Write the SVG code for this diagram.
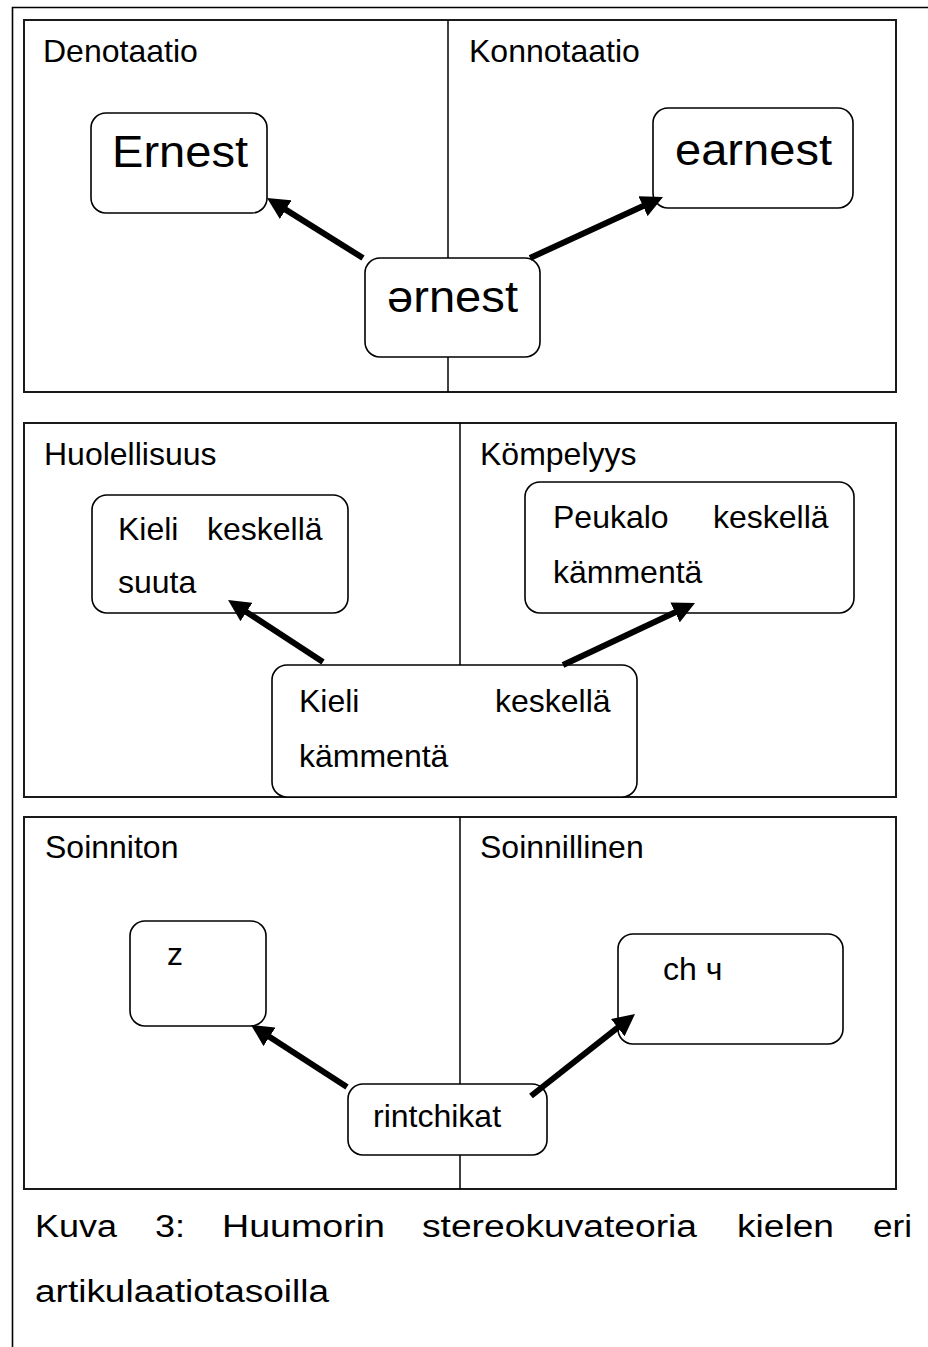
<svg xmlns="http://www.w3.org/2000/svg" width="928" height="1347" viewBox="0 0 928 1347">
<style>
  text { font-family: "Liberation Sans", Arial, sans-serif; fill: #000; }
  .frame { fill: none; stroke: #000; stroke-width: 1.6; }
  .panel { fill: none; stroke: #1a1a1a; stroke-width: 2; }
  .divider { stroke: #000; stroke-width: 1.5; }
  .node { fill: #fff; stroke: #000; stroke-width: 1.6; }
  .label { font-size: 32px; }
  .big { font-size: 45px; }
  .body { font-size: 32px; }
  .caption { font-size: 31px; }
  .arrow { stroke: #000; stroke-width: 6; fill: none; marker-end: url(#head); }
</style>
<defs>
  <marker id="head" viewBox="0 0 22 22" markerWidth="22" markerHeight="22" refX="2" refY="11" orient="auto" markerUnits="userSpaceOnUse">
    <path d="M0,0 L22,11 L0,22 Z" fill="#000"/>
  </marker>
</defs>
<rect width="928" height="1347" fill="#fff"/>
<g id="frame">
  <path class="frame" d="M12.5,1347 L12.5,7.5 L928,7.5"/>
</g>
<g id="panels">
  <rect class="panel" x="24" y="20" width="872" height="372"/>
  <line class="divider" x1="448" y1="20" x2="448" y2="392"/>
  <rect class="panel" x="24" y="423" width="872" height="374"/>
  <line class="divider" x1="460" y1="423" x2="460" y2="797"/>
  <rect class="panel" x="24" y="817" width="872" height="372"/>
  <line class="divider" x1="460" y1="817" x2="460" y2="1189"/>
</g>
<g id="labels">
  <text class="label" x="43" y="62">Denotaatio</text>
  <text class="label" x="469" y="62">Konnotaatio</text>
  <text class="label" x="44" y="465">Huolellisuus</text>
  <text class="label" x="480" y="465">Kömpelyys</text>
  <text class="label" x="45" y="858">Soinniton</text>
  <text class="label" x="480" y="858">Soinnillinen</text>
</g>
<g id="node-ernest">
  <rect class="node" x="91" y="113" width="176" height="100" rx="15"/>
  <text class="big" x="112" y="167" textLength="136" lengthAdjust="spacingAndGlyphs">Ernest</text>
</g>
<g id="node-earnest">
  <rect class="node" x="653" y="108" width="200" height="100" rx="15"/>
  <text class="big" x="675" y="165" textLength="157" lengthAdjust="spacingAndGlyphs">earnest</text>
</g>
<g id="node-schwa">
  <rect class="node" x="365" y="258" width="175" height="99" rx="15"/>
  <text class="big" x="387" y="312" textLength="131" lengthAdjust="spacingAndGlyphs">ərnest</text>
</g>
<g id="node-suuta">
  <rect class="node" x="92" y="495" width="256" height="118" rx="15"/>
  <text class="body" y="540"><tspan x="118">Kieli</tspan> <tspan x="207">keskellä</tspan></text>
  <text class="body" x="118" y="593">suuta</text>
</g>
<g id="node-peukalo">
  <rect class="node" x="525" y="482" width="329" height="131" rx="15"/>
  <text class="body" y="528"><tspan x="553">Peukalo</tspan> <tspan x="713">keskellä</tspan></text>
  <text class="body" x="553" y="583">kämmentä</text>
</g>
<g id="node-kammenta">
  <rect class="node" x="272" y="665" width="365" height="132" rx="15"/>
  <text class="body" y="712"><tspan x="299">Kieli</tspan> <tspan x="495">keskellä</tspan></text>
  <text class="body" x="299" y="767">kämmentä</text>
</g>
<g id="node-z">
  <rect class="node" x="130" y="921" width="136" height="105" rx="15"/>
  <text class="body" x="167" y="965">z</text>
</g>
<g id="node-ch">
  <rect class="node" x="618" y="934" width="225" height="110" rx="15"/>
  <text class="body" x="663" y="980">ch ч</text>
</g>
<g id="node-rintchikat">
  <rect class="node" x="348" y="1084" width="199" height="71" rx="15"/>
  <text class="body" x="373" y="1127">rintchikat</text>
</g>
<g id="connectors">
  <line class="arrow" x1="363" y1="258" x2="284" y2="208.6"/>
  <line class="arrow" x1="530" y1="258" x2="644.8" y2="205.3"/>
  <line class="arrow" x1="323" y1="662" x2="244.8" y2="610.9"/>
  <line class="arrow" x1="563" y1="665" x2="676.9" y2="611.5"/>
  <line class="arrow" x1="347" y1="1087" x2="267.8" y2="1035.8"/>
  <line class="arrow" x1="531" y1="1096" x2="619.3" y2="1026.4"/>
</g>
<g id="caption">
  <text class="caption" y="1237"><tspan x="35" textLength="82" lengthAdjust="spacingAndGlyphs">Kuva</tspan> <tspan x="155" textLength="30" lengthAdjust="spacingAndGlyphs">3:</tspan> <tspan x="222" textLength="163" lengthAdjust="spacingAndGlyphs">Huumorin</tspan> <tspan x="422" textLength="275" lengthAdjust="spacingAndGlyphs">stereokuvateoria</tspan> <tspan x="737" textLength="97" lengthAdjust="spacingAndGlyphs">kielen</tspan> <tspan x="873" textLength="39" lengthAdjust="spacingAndGlyphs">eri</tspan></text>
  <text class="caption" x="35" y="1302" textLength="294" lengthAdjust="spacingAndGlyphs">artikulaatiotasoilla</text>
</g>
</svg>
